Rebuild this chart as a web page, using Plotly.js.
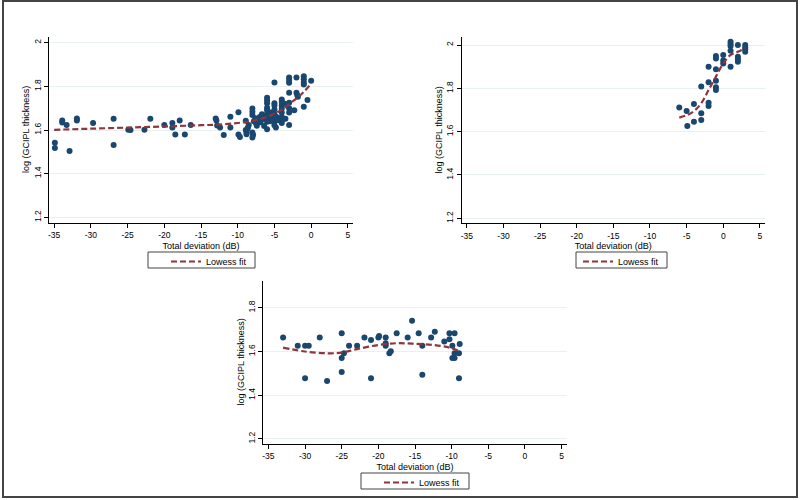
<!DOCTYPE html>
<html>
<head>
<meta charset="utf-8">
<script src="https://cdn.plot.ly/plotly-3.0.1.min.js"></script>
<style>html,body{margin:0;padding:0;background:#fff}#chart{width:800px;height:500px}</style>
</head>
<body>
<div id="chart"></div>
<script>
// ---------- Data ----------
const xTickVals = [-35, -30, -25, -20, -15, -10, -5, 0, 5];
const xTickText = ["-35", "-30", "-25", "-20", "-15", "-10", "-5", "0", "5"];
const yTickVals = [1.2, 1.4, 1.6, 1.8, 2];
const yTickText = ["1.2", "1.4", "1.6", "1.8", "2"];
const yTickVals3 = [1.2, 1.4, 1.6, 1.8];
const yTickText3 = ["1.2", "1.4", "1.6", "1.8"];

const xTitle = "Total deviation (dB)";
const yTitle = "log (GCIPL thickness)";
const legendLabel = "Lowess fit";

// Panel 1 scatter
const p1x = [-34.9,-34.9,-33.9,-33.9,-33.3,-32.9,-31.9,-31.9,-29.7,-26.9,-26.9,-24.9,-24.6,-22.7,-21.9,-20.0,-18.9,-18.9,-18.5,-17.9,-17.2,-16.4,-13.0,-12.9,-12.8,-12.4,-11.9,-11.0,-11.0,-9.9,-9.9,-9.7,
  -8.9,-8.8,-8.7,-8.6,-8.5,-8.8,-8.9,
  -8.0,-8.0,-8.0,-8.0,-8.0,-7.9,-7.8,-7.6,-7.5,-7.4,-7.2,-7.0,-6.9,-6.7,-6.5,-6.4,-6.2,
  -6.0,-6.0,-6.0,-6.0,-6.0,-6.0,-6.0,-6.0,-6.0,-5.8,-5.6,-5.5,-5.3,
  -5.0,-5.0,-5.0,-5.0,-5.0,-5.0,-5.0,-5.0,-4.8,-4.7,-4.5,
  -4.0,-4.0,-4.0,-4.0,-4.0,-4.0,-4.0,-4.0,-3.8,-3.6,-3.5,
  -3.0,-3.0,-3.0,-3.0,-3.0,-3.0,-3.0,-3.0,
  -2.0,-2.0,-1.9,-1.8,-2.3,
  -1.0,-1.0,-1.0,-1.0,-1.0,-0.5,0.0];
const p1y = [1.542,1.518,1.643,1.634,1.623,1.504,1.653,1.643,1.632,1.652,1.531,1.601,1.600,1.601,1.652,1.623,1.632,1.611,1.579,1.643,1.579,1.623,1.653,1.643,1.621,1.611,1.577,1.661,1.611,1.681,1.579,1.568,
  1.600,1.590,1.605,1.611,1.623,1.580,1.642,
  1.698,1.684,1.669,1.588,1.566,1.578,1.640,1.654,1.630,1.620,1.642,1.660,1.635,1.672,1.650,1.618,1.662,
  1.748,1.735,1.722,1.702,1.690,1.672,1.655,1.638,1.603,1.665,1.640,1.680,1.650,
  1.818,1.722,1.712,1.694,1.672,1.655,1.640,1.622,1.612,1.660,1.645,
  1.740,1.728,1.712,1.698,1.680,1.660,1.642,1.632,1.650,1.720,1.652,
  1.841,1.829,1.817,1.771,1.725,1.700,1.680,1.623,
  1.840,1.771,1.760,1.752,1.690,
  1.846,1.832,1.818,1.808,1.707,1.737,1.826];
const p1fitX = [-35,-30,-25,-20,-15,-12,-10,-8,-6,-5,-4,-3,-2,-1,0];
const p1fitY = [1.601,1.606,1.611,1.616,1.622,1.626,1.632,1.642,1.660,1.675,1.693,1.718,1.745,1.775,1.812];

// Panel 2 scatter
const p2x = [-6.0,-5.0,-4.9,-4.0,-4.0,-3.0,-3.0,-3.0,-2.0,-2.0,-2.0,-2.0,-1.0,-1.0,-1.0,-1.0,-1.0,-1.0,0.0,0.0,0.0,1.0,1.0,1.0,1.0,1.0,2.0,2.0,2.0,2.0,3.0,3.0,3.0,3.0];
const p2y = [1.711,1.695,1.626,1.728,1.646,1.808,1.685,1.654,1.900,1.828,1.734,1.718,1.949,1.938,1.888,1.835,1.805,1.792,1.954,1.928,1.915,2.015,2.005,1.995,1.974,1.900,2.000,1.946,1.934,1.923,2.000,1.989,1.980,1.969];
const p2fitX = [-6,-4.9,-4,-3,-2,-1,0,1,2,3];
const p2fitY = [1.665,1.677,1.695,1.731,1.792,1.854,1.915,1.954,1.969,1.985];

// Panel 3 scatter
const p3x = [-33.0,-31.0,-30.0,-29.5,-30.0,-28.0,-27.0,-25.0,-25.0,-25.0,-24.7,-24.0,-22.9,-21.9,-21.0,-21.0,-20.0,-19.9,-19.0,-19.0,-19.0,-18.5,-18.3,-17.5,-16.0,-15.4,-14.5,-14.0,-14.0,-12.8,-12.3,-11.0,-10.3,-10.3,-9.9,-9.9,-9.6,-9.6,-9.6,-9.0,-8.9,-9.0];
const p3y = [1.664,1.626,1.626,1.626,1.478,1.664,1.465,1.684,1.570,1.506,1.592,1.626,1.626,1.664,1.653,1.478,1.664,1.671,1.664,1.638,1.626,1.592,1.601,1.684,1.664,1.741,1.684,1.626,1.494,1.664,1.691,1.646,1.684,1.656,1.626,1.570,1.570,1.684,1.592,1.592,1.635,1.478];
const p3fitX = [-33,-30,-27,-25,-22.9,-20,-17.5,-15.4,-12.5,-10.3,-9];
const p3fitY = [1.618,1.600,1.592,1.595,1.611,1.630,1.638,1.636,1.630,1.618,1.603];

// ---------- Styling ----------
const FONT = "Liberation Sans, Arial, sans-serif";
const NAVY = "#1a476f";
const MAROON = "#90353b";
const W = 800, H = 500;
const px = v => v / W;
const py = v => 1 - v / H;

function scatter(x, y, xa, ya) {
  return {x, y, xaxis: xa, yaxis: ya, type: "scatter", mode: "markers",
    marker: {color: NAVY, size: 6}, showlegend: false, hoverinfo: "skip"};
}
function fit(x, y, xa, ya, lg) {
  return {x, y, xaxis: xa, yaxis: ya, type: "scatter", mode: "lines", name: legendLabel,
    line: {color: MAROON, width: 2.2, dash: "6px,3px", shape: "spline"}, legend: lg, showlegend: true, hoverinfo: "skip"};
}

const data = [
  scatter(p1x, p1y, "x", "y"), fit(p1fitX, p1fitY, "x", "y", "legend"),
  scatter(p2x, p2y, "x2", "y2"), fit(p2fitX, p2fitY, "x2", "y2", "legend2"),
  scatter(p3x, p3y, "x3", "y3"), fit(p3fitX, p3fitY, "x3", "y3", "legend3")
];

function xaxis(dom, anchor) {
  return {domain: dom, anchor, range: [-35.7, 5.7], tickvals: xTickVals, ticktext: xTickText,
    showline: true, linecolor: "#000", linewidth: 1, ticks: "outside", ticklen: 4, tickcolor: "#000",
    showgrid: false, zeroline: false, automargin: false,
    tickfont: {family: FONT, size: 8.5, color: "#000"},
    title: {text: xTitle, font: {family: FONT, size: 9, color: "#000"}, standoff: 3}};
}
function yaxis(dom, anchor, range, tv, tt) {
  return {domain: dom, anchor, range, tickvals: tv, ticktext: tt, tickangle: -90,
    showline: true, linecolor: "#000", linewidth: 1, ticks: "outside", ticklen: 4, tickcolor: "#000",
    showgrid: true, gridcolor: "#e8f0f2", gridwidth: 1, zeroline: false, automargin: false,
    tickfont: {family: FONT, size: 8.5, color: "#000"}};
}
function ytitle(xc, yc) {
  return {text: yTitle, xref: "paper", yref: "paper", x: px(xc), y: py(yc), xanchor: "center", yanchor: "middle",
    textangle: -90, showarrow: false, font: {family: FONT, size: 9, color: "#000"}};
}
function legend(x, yCenter) {
  return {x: px(x), y: py(yCenter - 13), xanchor: "left", yanchor: "top", bgcolor: "rgba(0,0,0,0)",
    borderwidth: 0, font: {family: FONT, size: 9, color: "#000"},
    tracegroupgap: 0, itemwidth: 30};
}
function box(x0, x1, y0, y1) {
  return {type: "rect", xref: "paper", yref: "paper", x0: px(x0), x1: px(x1), y0: py(y1), y1: py(y0),
    line: {color: "#444", width: 1}, fillcolor: "rgba(0,0,0,0)"};
}

const layout = {
  width: W, height: H, margin: {l: 0, r: 0, t: 0, b: 0},
  paper_bgcolor: "#fff", plot_bgcolor: "#fff", font: {family: FONT},
  xaxis: xaxis([px(49), px(353)], "y"),
  yaxis: yaxis([py(223), py(37)], "x", [1.174, 2.026], yTickVals, yTickText),
  xaxis2: xaxis([px(461.7), px(765)], "y2"),
  yaxis2: yaxis([py(223.3), py(37)], "x2", [1.177, 2.037], yTickVals, yTickText),
  xaxis3: xaxis([px(263.3), px(566.7)], "y3"),
  yaxis3: yaxis([py(444), py(280.7)], "x3", [1.177, 1.924], yTickVals3, yTickText3),
  legend: legend(166, 260),
  legend2: legend(578, 260),
  legend3: legend(379, 481),
  annotations: [ytitle(26, 130), ytitle(438.5, 130), ytitle(240.5, 362)],
  shapes: [
    {type: "rect", xref: "paper", yref: "paper", x0: px(3), x1: px(797), y0: py(497), y1: py(1),
      line: {color: "#444", width: 2}, fillcolor: "rgba(0,0,0,0)"},
    box(148, 255, 252, 268),
    box(576, 667, 252, 268),
    box(361, 469, 473, 489)
  ]
};

Plotly.newPlot("chart", data, layout, {displayModeBar: false, staticPlot: true});
</script>
</body>
</html>
